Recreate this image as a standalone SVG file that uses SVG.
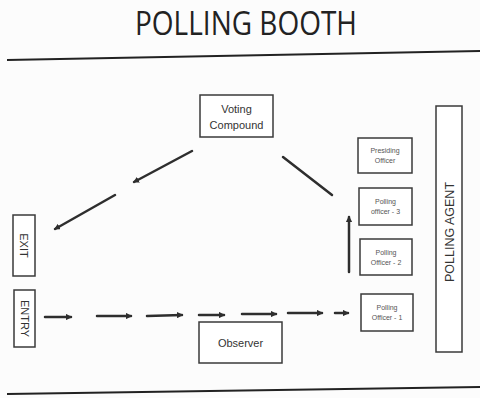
<svg xmlns="http://www.w3.org/2000/svg" width="480" height="398" viewBox="0 0 480 398">
<style>
.box{fill:#fff;stroke:#3a3a3a;stroke-width:1.5}
.lbl{font-family:"Liberation Sans",Arial,sans-serif;fill:#333;text-anchor:middle}
.small{font-size:7px;fill:#555}
.mid{font-size:11px}
.conn{stroke:#2e2e2e;stroke-width:2.5;fill:none;stroke-linecap:round}
.rule{stroke:#222;stroke-width:2;fill:none}
</style>
<defs>
<marker id="ah" viewBox="0 0 10 10" refX="8" refY="5" markerWidth="2.5" markerHeight="2.5" orient="auto" markerUnits="strokeWidth">
<path d="M0,0 L10,5 L0,10 z" fill="#2e2e2e"/>
</marker>
</defs>
<rect width="480" height="398" fill="#fcfcfc"/>
<text x="246" y="35" font-family="'Open Sans','Liberation Sans',sans-serif" font-size="33" fill="#222" text-anchor="middle" textLength="222" lengthAdjust="spacingAndGlyphs">POLLING BOOTH</text>
<path class="rule" d="M7,60 L480,51"/>
<path class="rule" d="M7,394 L480,387"/>

<g id="voting-compound"><rect class="box" x="200" y="95" width="73" height="42"/><text class="lbl mid" x="236.5" y="113">Voting</text><text class="lbl mid" x="236.5" y="129">Compound</text></g>
<g id="exit"><rect class="box" x="13" y="215" width="22" height="61"/><text class="lbl mid" transform="translate(20,245.5) rotate(90)">EXIT</text></g>
<g id="entry"><rect class="box" x="14" y="290" width="21" height="57"/><text class="lbl mid" transform="translate(20.5,318.5) rotate(90)">ENTRY</text></g>
<g id="observer"><rect class="box" x="199" y="322" width="83" height="41"/><text class="lbl mid" x="240.5" y="347">Observer</text></g>
<g id="presiding-officer"><rect class="box" x="358" y="138" width="54" height="35"/><text class="lbl small" x="385" y="153">Presiding</text><text class="lbl small" x="385" y="163">Officer</text></g>
<g id="polling-officer-3"><rect class="box" x="359" y="188" width="53" height="37"/><text class="lbl small" x="385.5" y="204">Polling</text><text class="lbl small" x="385.5" y="214">officer - 3</text></g>
<g id="polling-officer-2"><rect class="box" x="360" y="239" width="52" height="36"/><text class="lbl small" x="386" y="255">Polling</text><text class="lbl small" x="386" y="265">Officer - 2</text></g>
<g id="polling-officer-1"><rect class="box" x="361" y="294" width="52" height="37"/><text class="lbl small" x="387" y="310">Polling</text><text class="lbl small" x="387" y="320">Officer - 1</text></g>
<g id="polling-agent"><rect class="box" x="436" y="106" width="26" height="246"/><text class="lbl" font-size="12.5" transform="translate(453.5,232) rotate(-90)">POLLING AGENT</text></g>

<g id="connectors">
<path class="conn" d="M192,151 L134,182" marker-end="url(#ah)"/>
<path class="conn" d="M115,195 L55,229" marker-end="url(#ah)"/>
<path class="conn" d="M283,157 L332,195"/>
<path class="conn" d="M349,272 L349,217" marker-end="url(#ah)"/>
<path class="conn" d="M45,317 L71,317" marker-end="url(#ah)"/>
<path class="conn" d="M97,316 L131,316" marker-end="url(#ah)"/>
<path class="conn" d="M147,316 L182,315" marker-end="url(#ah)"/>
<path class="conn" d="M199,315 L224,315" marker-end="url(#ah)"/>
<path class="conn" d="M242,314 L276,314" marker-end="url(#ah)"/>
<path class="conn" d="M288,313 L322,313" marker-end="url(#ah)"/>
<path class="conn" d="M335,313 L348,313" marker-end="url(#ah)"/>
</g>
</svg>
